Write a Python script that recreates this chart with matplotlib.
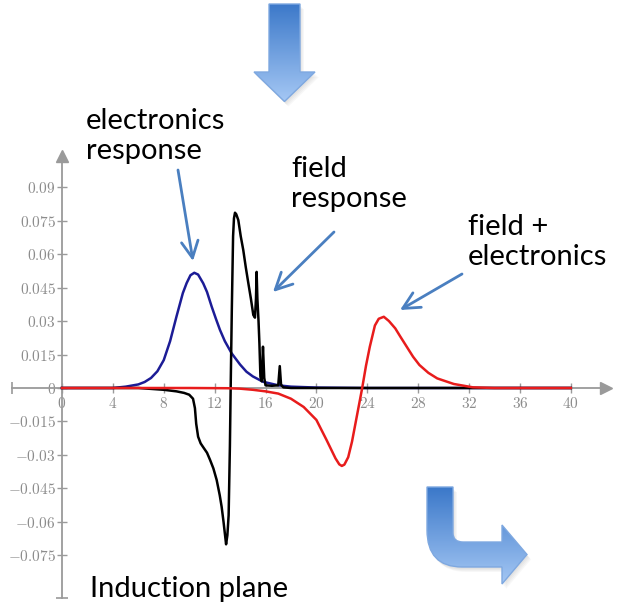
import numpy as np
import matplotlib.pyplot as plt
from matplotlib.path import Path
from matplotlib.patches import PathPatch
from matplotlib.colors import LinearSegmentedColormap
from matplotlib.transforms import Affine2D

plt.rcParams['mathtext.fontset'] = 'cm'

# Electronics response (blue)
elec_t = [0, 4, 5, 6, 6.5, 7, 7.5, 8, 8.5, 9, 9.5, 9.8, 10.1, 10.4, 10.7, 11.1,
          11.4, 11.77, 12.1, 12.42, 12.8, 13.34, 14.0, 14.5, 15.0, 15.8, 17.0,
          18.0, 20.0, 24.0, 40]
elec_v = [0, 0, 0.0006, 0.0016, 0.0027, 0.0045, 0.0075, 0.0125, 0.021, 0.032,
          0.0425, 0.047, 0.0505, 0.0516, 0.0508, 0.0469, 0.043, 0.0364, 0.031,
          0.026, 0.021, 0.0155, 0.0105, 0.0073, 0.0052, 0.0028, 0.0012, 0.0006,
          0.0002, 0, 0]

# Field response (black)
field_t = [0, 6, 8, 9, 9.6, 10.0, 10.3, 10.45, 10.55, 10.7, 10.9, 11.1, 11.4,
           11.64, 11.9, 12.16, 12.4, 12.55, 12.7, 12.8, 12.9, 13.0, 13.1, 13.2,
           13.26, 13.35, 13.45, 13.52, 13.6, 13.7, 13.86, 14.05, 14.25, 14.45,
           14.65, 14.85, 15.04, 15.17, 15.25, 15.3, 15.36, 15.45, 15.52, 15.6,
           15.7, 15.8, 15.9, 16.0, 16.5, 17.0, 17.12, 17.22, 17.4, 18, 40]
field_v = [0, 0, -0.0008, -0.0015, -0.0022, -0.003, -0.0048, -0.009, -0.016,
           -0.0218, -0.0248, -0.0265, -0.029, -0.0322, -0.036, -0.0412, -0.048,
           -0.0532, -0.060, -0.065, -0.070, -0.066, -0.057, -0.026, 0.0, 0.035,
           0.068, 0.076, 0.0785, 0.0778, 0.0752, 0.068, 0.0618, 0.054, 0.0469,
           0.040, 0.0327, 0.0315, 0.040, 0.052, 0.040, 0.030, 0.020, 0.005,
           0.003, 0.0185, 0.0045, 0.0012, 0.001, 0.0012, 0.0098, 0.0015, 0.0003,
           0, 0]

# Field + electronics (red)
total_t = [0, 10, 13, 14, 15, 16, 17, 18, 19, 20, 20.8, 21.5, 21.8, 22.0, 22.2,
           22.5, 22.8, 23.0, 23.3, 23.6, 23.9, 24.2, 24.6, 24.9, 25.3, 25.7,
           26.2, 26.6, 27.1, 27.6, 28.1, 28.8, 29.5, 30.8, 32.3, 34, 40]
total_v = [0, 0, -0.0001, -0.0003, -0.0008, -0.0015, -0.0025, -0.0048, -0.0085,
           -0.0143, -0.0233, -0.0315, -0.0342, -0.0349, -0.0343, -0.031, -0.024,
           -0.018, -0.009, 0.0, 0.010, 0.0185, 0.028, 0.031, 0.0319, 0.030,
           0.0267, 0.023, 0.0185, 0.014, 0.0103, 0.0068, 0.0043, 0.0018, 0.0003,
           0, 0]

x_ticks = [0, 4, 8, 12, 16, 20, 24, 28, 32, 36, 40]
y_ticks = [-0.075, -0.06, -0.045, -0.03, -0.015, 0, 0.015, 0.03, 0.045, 0.06,
           0.075, 0.09]
y_labels = ['-0.075', '-0.06', '-0.045', '-0.03', '-0.015', '0', '0.015',
            '0.03', '0.045', '0.06', '0.075', '0.09']

W, H = 619, 611
x0_px, x_scale = 62, 12.72
y0_px, y_scale = 388, 2233.0
grey = '#9a9a9a'

fig = plt.figure(figsize=(W / 100, H / 100), dpi=100)
ax = fig.add_axes([0, 0, 1, 1])
ax.set_facecolor('none')
ax.set_xlim(-x0_px / x_scale, (W - x0_px) / x_scale)
ax.set_ylim((y0_px - H) / y_scale, y0_px / y_scale)

ax.plot(elec_t, elec_v, color='#1c1c96', lw=1.8, zorder=3)
ax.plot(field_t, field_v, color='black', lw=1.8, zorder=4)
ax.plot(total_t, total_v, color='#e81c1c', lw=1.8, zorder=5)

# axes through the origin
x_left, x_right = -50 / x_scale, (606 - x0_px) / x_scale
y_bottom, y_top = (y0_px - 598) / y_scale, (y0_px - 156) / y_scale
for s in ['top', 'right']:
    ax.spines[s].set_visible(False)
ax.spines['left'].set_position(('data', 0))
ax.spines['bottom'].set_position(('data', 0))
ax.spines['left'].set_bounds(y_bottom, y_top)
ax.spines['bottom'].set_bounds(x_left, x_right)
for s in ['left', 'bottom']:
    ax.spines[s].set_color(grey)
    ax.spines[s].set_linewidth(1.3)
ax.plot(x_right, 0, marker='>', ms=8, color=grey, clip_on=False)
ax.plot(0, y_top, marker='^', ms=8, color=grey, clip_on=False)
ax.plot(x_left, 0, marker='|', ms=8, mew=1.2, color=grey, clip_on=False)
ax.plot(0, y_bottom, marker='_', ms=8, mew=1.2, color=grey, clip_on=False)

ax.set_xticks(x_ticks, [f'${v}$' for v in x_ticks])
ax.set_yticks(y_ticks, [f'${v}$' for v in y_labels])
ax.tick_params(direction='inout', length=7, width=1, color=grey,
               labelcolor='#8c8c8c', labelsize=11)
ax.tick_params(axis='x', pad=2)
ax.tick_params(axis='y', pad=1)

# overlay in pixel coordinates for the annotations
ov = fig.add_axes([0, 0, 1, 1])
ov.set_facecolor('none')
ov.axis('off')


def gradient_shape(verts, codes):
    path = Path(verts, codes)
    # soft shadow
    for k in range(4):
        sh = path.transformed(Affine2D().translate(1 + k, 2 + k))
        ov.add_patch(PathPatch(sh, facecolor='#808080', edgecolor='none',
                               alpha=0.06, zorder=0.5))
    patch = PathPatch(path, facecolor='none', edgecolor='#7ea8e0', lw=1, zorder=2)
    ov.add_patch(patch)
    ext = path.get_extents()
    grad = np.linspace(0, 1, 256).reshape(-1, 1)
    cmap = LinearSegmentedColormap.from_list('g', ['#3b78c9', '#a4c7f4'])
    im = ov.imshow(grad, cmap=cmap, extent=(ext.x0, ext.x1, ext.y1, ext.y0),
                   aspect='auto', zorder=1)
    im.set_clip_path(patch)


# down block arrow
gradient_shape([(269, 4), (300, 4), (300, 72), (315, 72), (284.5, 101.5),
                (254, 72), (269, 72), (269, 4)],
               [Path.MOVETO] + [Path.LINETO] * 6 + [Path.CLOSEPOLY])

# bent block arrow
gradient_shape([(427, 487), (453, 487), (453, 533), (453, 542), (463, 542),
                (502, 542), (502, 525), (527, 554.5), (502, 584), (502, 567),
                (462, 567), (427, 567), (427, 530), (427, 487)],
               [Path.MOVETO, Path.LINETO, Path.LINETO, Path.CURVE3, Path.CURVE3,
                Path.LINETO, Path.LINETO, Path.LINETO, Path.LINETO, Path.LINETO,
                Path.LINETO, Path.CURVE3, Path.CURVE3, Path.CLOSEPOLY])

# labels and pointer arrows
txt = dict(fontsize=21, family='Lato', color='black', va='top', ha='left',
           linespacing=1.2)
ov.text(86, 108, 'electronics\nresponse', **txt)
ov.text(291, 156, 'field\nresponse', **txt)
ov.text(468, 214, 'field +\nelectronics', **txt)
ov.text(90, 576, 'Induction plane', **txt)

arrow = dict(arrowstyle='->', color='#4a7fc0', lw=2, mutation_scale=30,
             shrinkA=0, shrinkB=0)
ov.annotate('', xy=(193, 261), xytext=(178, 170), arrowprops=arrow)
ov.annotate('', xy=(273, 292), xytext=(334, 232), arrowprops=arrow)
ov.annotate('', xy=(400, 310), xytext=(462, 274), arrowprops=arrow)

ov.set_xlim(0, W)
ov.set_ylim(H, 0)

fig.savefig('out.png', dpi=100)
